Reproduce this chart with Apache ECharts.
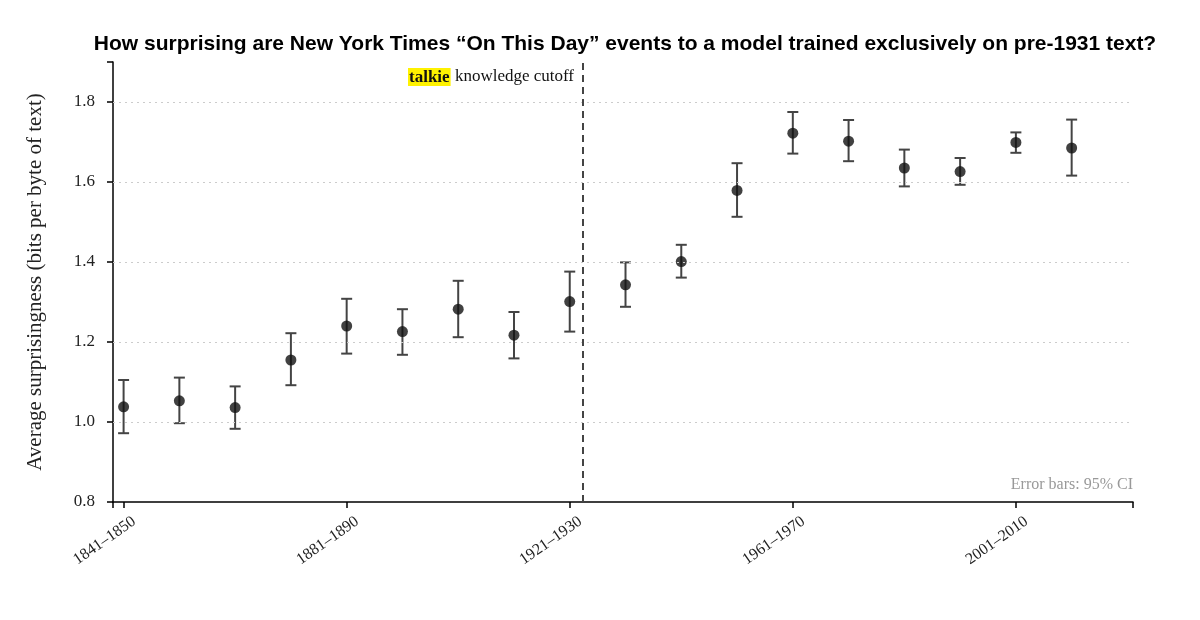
<!DOCTYPE html>
<html>
<head>
<meta charset="utf-8">
<script src="https://cdn.jsdelivr.net/npm/echarts@6/dist/echarts.min.js"></script>
<style>html,body{margin:0;padding:0;background:#fff}#c{width:1200px;height:620px}</style>
</head>
<body>
<div id="c"></div>
<script>
const decades = ['1841–1850','1851–1860','1861–1870','1871–1880','1881–1890','1891–1900','1901–1910','1911–1920','1921–1930','1931–1940','1941–1950','1951–1960','1961–1970','1971–1980','1981–1990','1991–2000','2001–2010','2011–2020'];
const means = [1.038,1.053,1.036,1.155,1.240,1.226,1.282,1.217,1.301,1.343,1.401,1.579,1.722,1.702,1.635,1.626,1.699,1.685];
const lower = [0.972,0.997,0.983,1.092,1.171,1.168,1.212,1.159,1.226,1.288,1.361,1.513,1.671,1.652,1.589,1.593,1.673,1.616];
const upper = [1.105,1.111,1.089,1.222,1.308,1.282,1.353,1.275,1.376,1.399,1.443,1.647,1.775,1.755,1.681,1.660,1.724,1.756];
const xTickIdx = [0,4,8,12,16];
const yTicks = [0.8,1.0,1.2,1.4,1.6,1.8];
const gridVals = [1.0,1.2,1.4,1.6,1.8];
const cutoffIdx = 8.24;
const xMin = -0.19, xMax = 18.1, yMin = 0.8, yMax = 1.9;
const labelShift = 0.19;

const serif = '"Liberation Serif","DejaVu Serif",serif';
const sans = '"Liberation Sans",Arial,sans-serif';

const chart = echarts.init(document.getElementById('c'), null, {renderer:'canvas'});
const errData = decades.map((d,i)=>[i, lower[i], upper[i]]);
const ptData = decades.map((d,i)=>[i, means[i]]);

chart.setOption({
  animation:false,
  backgroundColor:'#fff',
  title:{text:'How surprising are New York Times “On This Day” events to a model trained exclusively on pre-1931 text?',
    left:620, textAlign:'center', top:29,
    textStyle:{fontFamily:sans, fontWeight:'bold', fontSize:21, color:'#000'}},
  grid:{left:113, right:67, top:62, bottom:118},
  xAxis:{type:'value', min:xMin, max:xMax,
    axisLine:{show:true, onZero:false, lineStyle:{color:'#000', width:1.5}},
    axisTick:{show:true, length:6, customValues:[xMin].concat(xTickIdx,[xMax]), lineStyle:{color:'#000', width:1.5}},
    axisLabel:{customValues:xTickIdx.map(v=>v+labelShift), formatter:v=>decades[Math.round(v-labelShift)], rotate:35, margin:18,
      fontFamily:serif, fontSize:16, color:'#222'},
    splitLine:{show:false}},
  yAxis:{type:'value', min:yMin, max:yMax,
    name:'Average surprisingness (bits per byte of text)', nameLocation:'middle', nameGap:67,
    nameTextStyle:{fontFamily:serif, fontSize:21, color:'#222'},
    axisLine:{show:true, onZero:false, lineStyle:{color:'#000', width:1.5}},
    axisTick:{show:true, length:6, customValues:yTicks.concat([yMax]), lineStyle:{color:'#000', width:1.5}},
    axisLabel:{customValues:yTicks, formatter:v=>v.toFixed(1), margin:18, fontFamily:serif, fontSize:17, color:'#222'},
    splitLine:{show:false}},
  graphic:[
    {type:'text', right:1200-574, top:68, style:{
      text:'{hl|talkie} knowledge cutoff',
      rich:{hl:{backgroundColor:'#fff200', fontFamily:serif, fontSize:17, fontWeight:'bold', color:'#000', padding:[1,1,0,1]}},
      fontFamily:serif, fontSize:17, fill:'#111'}},
    {type:'text', right:1200-1133, top:477, style:{text:'Error bars: 95% CI', fontFamily:serif, fontSize:16, fill:'#999'}}
  ],
  series:[
    {type:'custom', data:errData, z:2,
      renderItem:function(params, api){
        const x = api.value(0);
        const p1 = api.coord([x, api.value(1)]);
        const p2 = api.coord([x, api.value(2)]);
        const hw = 5.5;
        const st = {stroke:'#444', lineWidth:2};
        return {type:'group', children:[
          {type:'line', shape:{x1:p1[0], y1:p1[1], x2:p2[0], y2:p2[1]}, style:st},
          {type:'line', shape:{x1:p1[0]-hw, y1:p1[1], x2:p1[0]+hw, y2:p1[1]}, style:st},
          {type:'line', shape:{x1:p2[0]-hw, y1:p2[1], x2:p2[0]+hw, y2:p2[1]}, style:st}
        ]};
      }},
    {type:'scatter', data:ptData, symbol:'circle', symbolSize:11, z:3,
      itemStyle:{color:'#111'},
      markLine:{silent:true, symbol:'none', label:{show:false},
        data: gridVals.map(v=>({yAxis:v, lineStyle:{color:'#ccc', type:[2,4], width:1}}))
          .concat([{xAxis:cutoffIdx, lineStyle:{color:'#444', type:[7,5], width:2}}])}}
  ]
});
</script>
</body>
</html>
